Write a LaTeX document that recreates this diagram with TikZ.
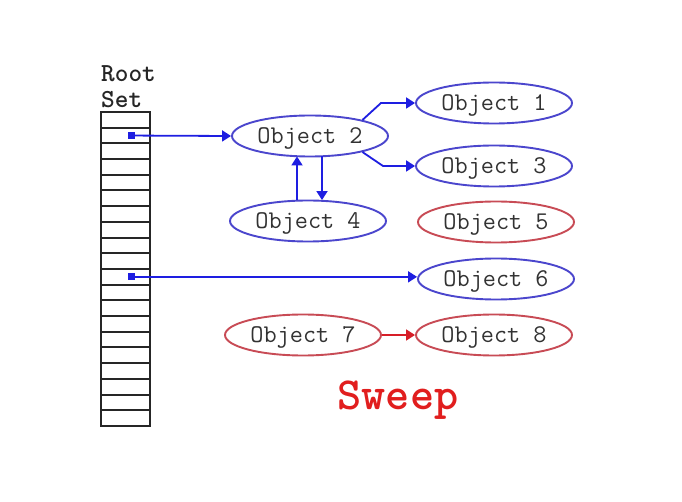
\documentclass[tikz,border=0pt]{standalone}
\usepackage{fontspec}
\usetikzlibrary{shapes.geometric,arrows.meta,calc}
\definecolor{lineblue}{RGB}{30,30,225}
\definecolor{ellblue}{RGB}{75,70,205}
\definecolor{ellred}{RGB}{200,75,85}
\definecolor{linered}{RGB}{215,30,40}
\definecolor{sweepred}{RGB}{225,30,30}
\definecolor{txtgray}{RGB}{50,50,50}
\begin{document}
\begin{tikzpicture}[x=1pt,y=-1pt,
  obj/.style={ellipse,draw,line width=1.9pt,minimum width=156pt,minimum height=41pt,inner sep=0pt,
    font=\ttfamily\fontsize{25.5}{25.5}\selectfont,text=txtgray,text depth=0pt},
  live/.style={obj,draw=ellblue},
  dead/.style={obj,draw=ellred},
  cell/.style={minimum width=49pt,minimum height=15.7pt,inner sep=0pt},
  grid/.style={draw=black!85,line width=2pt},
  dot/.style={fill=lineblue,minimum size=7pt,inner sep=0pt},
  ref/.style={draw=lineblue,line width=1.8pt,-{Triangle[length=9pt,width=11pt]}},
  redref/.style={draw=linered,line width=1.8pt,-{Triangle[length=9pt,width=11pt]},fill=linered},
  lbl/.style={font=\ttfamily\bfseries\fontsize{26}{26}\selectfont,text=black!85,inner sep=0pt,anchor=west}]
\useasboundingbox (0,0) rectangle (682,502);
\fill[white] (0,0) rectangle (682,502);
% root set
\node[lbl] (root) at (101,74) {Root};
\node[lbl] (set) at (101,100) {Set};
\foreach \i in {1,...,20}
  \node[cell] (c\i) at (125.5,{112+15.7*(\i-0.5)}) {};
\draw[grid] (101,112) rectangle (150,426);
\foreach \k in {1,...,19}{
  \pgfmathsetmacro{\yy}{round(112+15.7*\k)}
  \draw[grid] (101,\yy) -- (150,\yy);
}
\node[dot] (d2) at ([xshift=5.5pt]c2.center) {};
\node[dot] (d11) at ([xshift=5.5pt]c11.center) {};
% objects
\node[live] (o1) at (494,103) {Object 1};
\node[live] (o2) at (310,136) {Object 2};
\node[live] (o3) at (494,166) {Object 3};
\node[live] (o4) at (308,221) {Object 4};
\node[dead] (o5) at (496,222) {Object 5};
\node[live] (o6) at (496,279) {Object 6};
\node[dead] (o7) at (303,335) {Object 7};
\node[dead] (o8) at (494,335) {Object 8};
\node[font=\ttfamily\bfseries\fontsize{46}{46}\selectfont,text=sweepred] (sweep) at (398,400) {Sweep};
% connectors
\coordinate (k1) at (381,103);
\coordinate (k3) at (383,166);
\coordinate (xu) at (297,0);
\coordinate (xd) at (322,0);
\draw[ref] (d2.center) -- (o2.west);
\draw[ref] (d11.center) -- (d11.center -| o6.west);
\draw[ref] (o2.17) -- (k1) -- (o1.west);
\draw[ref] (o2.-17) -- (k3) -- (o3.west);
\draw[ref] ([yshift=-0.5pt]o4.north -| xu) -- ([yshift=1pt]o2.south -| xu);
\draw[ref] ([yshift=1pt]o2.south -| xd) -- ([yshift=-0.5pt]o4.north -| xd);
\draw[redref] (o7.east) -- (o8.west);
\end{tikzpicture}
\end{document}
